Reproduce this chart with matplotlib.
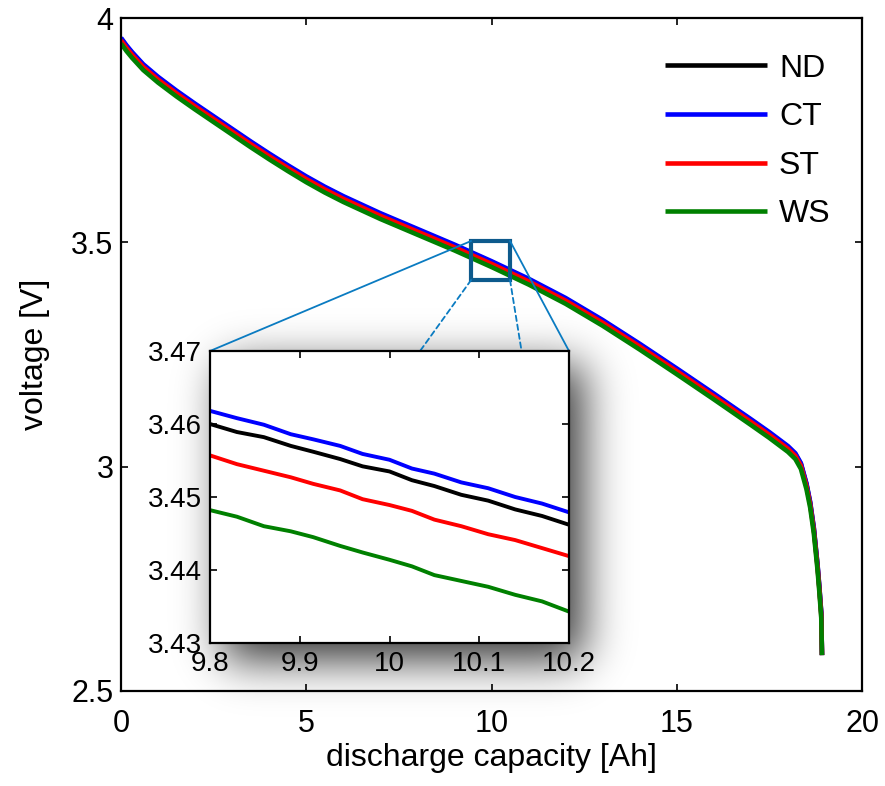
import math
import numpy as np
import matplotlib
matplotlib.use("Agg")
import matplotlib.pyplot as plt
from matplotlib.patches import Rectangle, ConnectionPatch
from matplotlib.ticker import FormatStrFormatter

plt.rcParams['font.family'] = ['Liberation Sans', 'DejaVu Sans']

# discharge curves (whole range)
capacity = [0, 0.15, 0.3, 0.6, 1.0, 1.5, 2.0, 2.5, 3.0, 3.5, 4.0, 4.5, 5.0, 5.5,
            6.0, 7.0, 8.0, 9.0, 10.0, 11.0, 12.0, 13.0, 14.0, 15.0, 16.0, 17.0,
            17.5, 18.0, 18.2, 18.35, 18.5, 18.6, 18.7, 18.8, 18.85, 18.9, 18.92]
nd = [3.954, 3.937, 3.922, 3.895, 3.867, 3.836, 3.807, 3.779, 3.751, 3.723,
      3.696, 3.670, 3.645, 3.622, 3.601, 3.563, 3.528, 3.493, 3.456, 3.417,
      3.374, 3.325, 3.272, 3.217, 3.161, 3.104, 3.075, 3.044, 3.028, 3.006,
      2.961, 2.920, 2.862, 2.780, 2.730, 2.674, 2.580]
ct = [3.956, 3.939, 3.924, 3.897, 3.869, 3.838, 3.809, 3.781, 3.753, 3.725,
      3.698, 3.672, 3.647, 3.624, 3.603, 3.565, 3.530, 3.495, 3.458, 3.419,
      3.376, 3.327, 3.274, 3.219, 3.163, 3.106, 3.077, 3.046, 3.030, 3.008,
      2.963, 2.922, 2.864, 2.782, 2.732, 2.676, 2.580]
st = [3.950, 3.933, 3.918, 3.891, 3.863, 3.832, 3.803, 3.775, 3.747, 3.719,
      3.692, 3.666, 3.641, 3.618, 3.597, 3.559, 3.524, 3.489, 3.452, 3.413,
      3.370, 3.321, 3.268, 3.213, 3.157, 3.100, 3.071, 3.040, 3.024, 3.002,
      2.957, 2.916, 2.858, 2.776, 2.726, 2.670, 2.580]
ws = [3.943, 3.926, 3.911, 3.884, 3.856, 3.825, 3.796, 3.768, 3.740, 3.712,
      3.685, 3.659, 3.634, 3.611, 3.590, 3.552, 3.517, 3.482, 3.445, 3.406,
      3.363, 3.314, 3.261, 3.206, 3.150, 3.093, 3.064, 3.033, 3.017, 2.995,
      2.950, 2.909, 2.851, 2.769, 2.719, 2.663, 2.580]

# zoomed part around 10 Ah
inset_cap = [9.80, 9.83, 9.86, 9.89, 9.915, 9.945, 9.97, 10.0, 10.025, 10.05,
             10.08, 10.11, 10.14, 10.17, 10.20]
ct_in = [3.4618, 3.4608, 3.4599, 3.4586, 3.4579, 3.4570, 3.4559, 3.4551, 3.4539,
         3.4532, 3.4520, 3.4512, 3.4500, 3.4491, 3.4479]
nd_in = [3.4600, 3.4589, 3.4582, 3.4570, 3.4562, 3.4552, 3.4542, 3.4535, 3.4523,
         3.4515, 3.4503, 3.4495, 3.4483, 3.4474, 3.4462]
st_in = [3.4557, 3.4545, 3.4536, 3.4527, 3.4518, 3.4509, 3.4497, 3.4489, 3.4481,
         3.4469, 3.4460, 3.4449, 3.4441, 3.4430, 3.4419]
ws_in = [3.4482, 3.4473, 3.4460, 3.4453, 3.4445, 3.4433, 3.4424, 3.4414, 3.4405,
         3.4393, 3.4385, 3.4377, 3.4366, 3.4357, 3.4343]

labels = ['ND', 'CT', 'ST', 'WS']
colors = ['black', 'blue', 'red', '#008000']
main_series = [nd, ct, st, ws]
inset_series = [nd_in, ct_in, st_in, ws_in]

x_ticks = [0, 5, 10, 15, 20]
y_ticks = [2.5, 3, 3.5, 4]
inset_x_ticks = [9.8, 9.9, 10, 10.1, 10.2]
inset_y_ticks = [3.43, 3.44, 3.45, 3.46, 3.47]
zoom_box = (9.45, 3.416, 10.50, 3.503)

W, H = 885, 786
fig = plt.figure(figsize=(W / 100, H / 100), dpi=100)

# main axes
ax = fig.add_axes([121 / W, 1 - 691 / H, 741 / W, 673 / H])
for v, c, lab in zip(main_series, colors, labels):
    ax.plot(capacity, v, color=c, lw=3.3, label=lab,
            solid_capstyle='butt', solid_joinstyle='round')
ax.set_xlim(0, 20)
ax.set_ylim(2.5, 4)
ax.set_xticks(x_ticks)
ax.set_yticks(y_ticks)
ax.xaxis.set_major_formatter(FormatStrFormatter('%g'))
ax.yaxis.set_major_formatter(FormatStrFormatter('%g'))
ax.tick_params(direction='in', top=True, right=True, length=5, width=1.2,
               labelsize=22)
ax.tick_params(axis='x', pad=13)
ax.tick_params(axis='y', pad=5.5)
for sp in ax.spines.values():
    sp.set_linewidth(1.6)
ax.set_xlabel('discharge capacity [Ah]', fontsize=23, labelpad=3)
ax.set_ylabel('voltage [V]', fontsize=23, labelpad=15)

leg = ax.legend(loc='upper left', bbox_to_anchor=(0.734, 0.947), frameon=False,
                fontsize=23, handlelength=3.2, handletextpad=0.37,
                labelspacing=0.58, borderpad=0, borderaxespad=0)

# zoom box on the main curves
x0, y0, x1, y1 = zoom_box
ax.add_patch(Rectangle((x0, y0), x1 - x0, y1 - y0, fill=False,
                       ec='#0d5a8c', lw=3, zorder=5))

# inset axes
axin = fig.add_axes([210 / W, 1 - 643 / H, 359 / W, 292 / H], zorder=3)
for v, c in zip(inset_series, colors):
    axin.plot(inset_cap, v, color=c, lw=2.8, solid_joinstyle='round')
axin.set_xlim(9.8, 10.2)
axin.set_ylim(3.43, 3.47)
axin.set_xticks(inset_x_ticks)
axin.set_yticks(inset_y_ticks)
axin.xaxis.set_major_formatter(FormatStrFormatter('%g'))
axin.yaxis.set_major_formatter(FormatStrFormatter('%g'))
axin.tick_params(direction='in', top=True, right=True, length=5, width=1.2,
                 labelsize=20, pad=6)
for sp in axin.spines.values():
    sp.set_linewidth(1.6)

# connector lines from the box to the inset corners
link = '#0a7bc1'
for (bx, by), corner, ls in [((x0, y1), (0, 1), '-'), ((x1, y1), (1, 1), '-'),
                             ((x0, y0), (0, 0), (0, (3, 2))),
                             ((x1, y0), (1, 0), (0, (3, 2)))]:
    cp = ConnectionPatch(xyA=(bx, by), coordsA=ax.transData,
                         xyB=corner, coordsB=axin.transAxes,
                         color=link, lw=1.3, linestyle=ls, zorder=2)
    fig.add_artist(cp)

# soft drop shadow behind the inset
s = 22 * math.sqrt(2)
sx0, sx1, sy0, sy1 = 224, 583, 365, 660
px = np.array([0.5 * (math.erf((t - sx0) / s) - math.erf((t - sx1) / s))
               for t in np.arange(W) + 0.5])
py = np.array([0.5 * (math.erf((t - sy0) / s) - math.erf((t - sy1) / s))
               for t in np.arange(H) + 0.5])
shadow = np.zeros((H, W, 4))
shadow[..., 3] = 0.8 * np.outer(py, px)
fig.figimage(shadow, 0, 0, origin='upper', zorder=1)

fig.savefig('out.png', dpi=100)
